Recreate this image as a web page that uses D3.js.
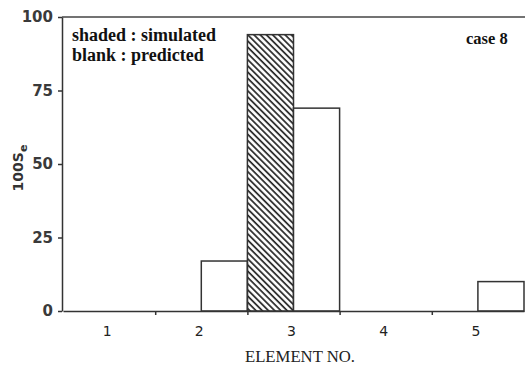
<!DOCTYPE html>
<meta charset="utf-8">
<style>
body { margin: 0; background: #fff; }
svg { display: block; }
.axis path, .axis line { stroke: #333; stroke-width: 1.5; }
.ylab text { font: bold 15px "DejaVu Sans", sans-serif; fill: #3a3a3a; }
.xlab text { font: 14px "DejaVu Sans", sans-serif; fill: #222; }
.note { font: bold 18px "Liberation Serif", serif; fill: #111; }
</style>
<script src="https://cdn.jsdelivr.net/npm/d3@7"></script>
<body>
<script>

var elements = [1, 2, 3, 4, 5];
var simulated = [0, 0, 94, 0, 0];
var predicted = [0, 17, 69, 0, 10];
var yTicks = [0, 25, 50, 75, 100];

var width = 525, height = 372;

var svg = d3.select("body").append("svg")
    .attr("width", width)
    .attr("height", height);

var x = d3.scaleLinear().domain([0.5, 5.5]).range([63, 524]);
var y = d3.scaleLinear().domain([0, 100]).range([311, 17]);

// hatch for simulated bars
svg.append("defs").append("pattern")
    .attr("id", "hatch")
    .attr("patternUnits", "userSpaceOnUse")
    .attr("width", 4.4)
    .attr("height", 4.4)
    .attr("patternTransform", "rotate(-45)")
  .append("line")
    .attr("x1", 1).attr("y1", 0)
    .attr("x2", 1).attr("y2", 4.4)
    .attr("stroke", "#222")
    .attr("stroke-width", 1.7);

var bars = [];
elements.forEach(function(e, i) {
  if (simulated[i] > 0) bars.push({x0: e - 0.5, x1: e, v: simulated[i], kind: "sim"});
  if (predicted[i] > 0) bars.push({x0: e, x1: e + 0.5, v: predicted[i], kind: "pred"});
});

svg.selectAll("rect.bar")
    .data(bars)
    .enter().append("rect")
    .attr("class", "bar")
    .attr("x", function(d) { return x(d.x0); })
    .attr("y", function(d) { return y(d.v); })
    .attr("width", function(d) { return x(d.x1) - x(d.x0); })
    .attr("height", function(d) { return y(0) - y(d.v); })
    .attr("fill", function(d) { return d.kind == "sim" ? "url(#hatch)" : "#fff"; })
    .attr("stroke", "#333")
    .attr("stroke-width", 1.5);

// top frame line
svg.append("line")
    .attr("x1", x(0.5) - 1).attr("x2", width)
    .attr("y1", y(100)).attr("y2", y(100))
    .attr("stroke", "#444").attr("stroke-width", 1.5);

// y axis
svg.append("g")
    .attr("class", "axis ylab")
    .attr("transform", "translate(" + (x(0.5) - 1) + ",0)")
    .call(d3.axisLeft(y).tickValues(yTicks).tickSize(4).tickPadding(5).tickSizeOuter(0));

// x axis: ticks at element boundaries, labels at centres
svg.append("g")
    .attr("class", "axis")
    .attr("transform", "translate(0," + y(0) + ")")
    .call(d3.axisBottom(x).tickValues([1.5, 2.5, 3.5, 4.5]).tickSize(4).tickFormat("").tickSizeOuter(0));

svg.append("g")
    .attr("class", "xlab")
    .selectAll("text")
    .data(elements)
    .enter().append("text")
    .attr("x", function(d) { return x(d) - 2; })
    .attr("y", y(0) + 25)
    .attr("text-anchor", "middle")
    .text(function(d) { return d; });

svg.append("text")
    .attr("x", 300)
    .attr("y", 362)
    .attr("text-anchor", "middle")
    .style("font", "16.7px 'Liberation Serif', serif")
    .style("fill", "#222")
    .text("ELEMENT NO.");

// y title 100Se
var yt = svg.append("text")
    .attr("transform", "translate(23,168) rotate(-90)")
    .attr("text-anchor", "middle")
    .style("font", "bold 14px 'DejaVu Sans', sans-serif")
    .style("fill", "#333");
yt.append("tspan").text("100S");
yt.append("tspan").attr("dy", 4).style("font-size", "11px").text("e");

svg.append("text").attr("class", "note").attr("x", 72).attr("y", 41).text("shaded : simulated");
svg.append("text").attr("class", "note").attr("x", 72).attr("y", 61).text("blank : predicted");
svg.append("text").attr("class", "note").style("font-size", "16.5px").attr("x", 466).attr("y", 44).text("case 8");

</script>
</body>
